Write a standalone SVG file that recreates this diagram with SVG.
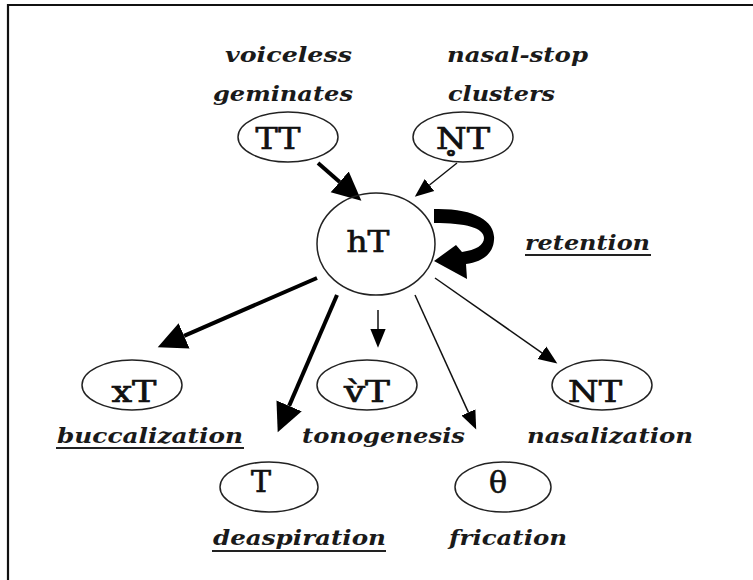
<svg xmlns="http://www.w3.org/2000/svg" width="753" height="580" viewBox="0 0 753 580">
  <style>
    .node { fill: none; stroke: #222; stroke-width: 1.5; }
    .sym { font-family: "DejaVu Serif", "Liberation Serif", serif; font-size: 30px; fill: #111; stroke: #111; stroke-width: 0.7; text-anchor: middle; }
    .lbl { font-family: "DejaVu Serif", "Liberation Serif", serif; font-size: 20px; font-style: italic; font-weight: bold; fill: #1a1a1a; }
    .ul { stroke: #222; stroke-width: 1.8; }
    .thick { stroke: #000; stroke-width: 4; fill: none; }
    .thin { stroke: #111; stroke-width: 1.5; fill: none; }
  </style>
  <defs>
    <marker id="headBig" markerUnits="userSpaceOnUse" markerWidth="30" markerHeight="30" viewBox="0 -12 24 24" refX="0" refY="0" orient="auto">
      <path d="M0,-11 L23,0 L0,11 Z" fill="#000"/>
    </marker>
    <marker id="headSmall" markerUnits="userSpaceOnUse" markerWidth="20" markerHeight="20" viewBox="0 -8 17 16" refX="0" refY="0" orient="auto">
      <path d="M0,-6.5 L16,0 L0,6.5 Z" fill="#000"/>
    </marker>
  </defs>

  <rect width="753" height="580" fill="#fff"/>
  <!-- page frame -->
  <path d="M8,580 V5 H753" fill="none" stroke="#111" stroke-width="2.2"/>

  <g id="connectors">
    <line class="thick" x1="318" y1="163" x2="339.7" y2="181.9" marker-end="url(#headBig)"/>
    <line class="thin" x1="457" y1="163" x2="429.5" y2="185" marker-end="url(#headSmall)"/>
    <line class="thick" x1="317" y1="278" x2="184.1" y2="335.8" marker-end="url(#headBig)"/>
    <line class="thick" x1="337" y1="295" x2="289.1" y2="405.9" marker-end="url(#headBig)"/>
    <line class="thin" x1="378" y1="310" x2="378" y2="329" marker-end="url(#headSmall)"/>
    <line class="thin" x1="415" y1="295" x2="468.4" y2="412.4" marker-end="url(#headSmall)"/>
    <line class="thin" x1="435" y1="278" x2="541.9" y2="352.8" marker-end="url(#headSmall)"/>
    <!-- self loop: retention -->
    <path d="M434,209 C476,208 496,222 494,240 C493,255 481,262 466,264 L467,279 L434,261 L456,245 L462,252 C476,250 484,245 484,238 C484,228 466,223 434,223 Z" fill="#000"/>
  </g>

  <g id="n-TT">
    <ellipse class="node" cx="288" cy="137" rx="50" ry="25"/>
    <text class="sym" x="278" y="149" textLength="45" lengthAdjust="spacingAndGlyphs">TT</text>
  </g>
  <g id="n-NT-cluster">
    <ellipse class="node" cx="463" cy="137" rx="50" ry="25"/>
    <text class="sym" x="463" y="149" textLength="54" lengthAdjust="spacingAndGlyphs">N&#x325;T</text>
  </g>
  <g id="n-hT">
    <ellipse class="node" cx="376" cy="244" rx="59" ry="51"/>
    <text class="sym" x="368" y="252" textLength="43" lengthAdjust="spacingAndGlyphs">hT</text>
  </g>
  <g id="n-xT">
    <ellipse class="node" cx="132" cy="385" rx="50" ry="25"/>
    <text class="sym" x="134" y="402" textLength="45" lengthAdjust="spacingAndGlyphs">xT</text>
  </g>
  <g id="n-vT">
    <ellipse class="node" cx="367" cy="385" rx="50" ry="25"/>
    <text class="sym" x="367" y="402" textLength="46" lengthAdjust="spacingAndGlyphs">v&#x300;T</text>
  </g>
  <g id="n-NT">
    <ellipse class="node" cx="602" cy="385" rx="50" ry="25"/>
    <text class="sym" x="595" y="402" textLength="54" lengthAdjust="spacingAndGlyphs">NT</text>
  </g>
  <g id="n-T">
    <ellipse class="node" cx="269" cy="487" rx="49" ry="25"/>
    <text class="sym" x="261" y="492">T</text>
  </g>
  <g id="n-theta">
    <ellipse class="node" cx="503" cy="487" rx="48" ry="25"/>
    <text class="sym" x="498" y="493">θ</text>
  </g>

  <g id="labels">
    <text class="lbl" x="225" y="62" textLength="127" lengthAdjust="spacingAndGlyphs">voiceless</text>
    <text class="lbl" x="213" y="101" textLength="140" lengthAdjust="spacingAndGlyphs">geminates</text>
    <text class="lbl" x="447" y="62" textLength="141" lengthAdjust="spacingAndGlyphs">nasal-stop</text>
    <text class="lbl" x="448" y="101" textLength="107" lengthAdjust="spacingAndGlyphs">clusters</text>
    <text class="lbl" x="525" y="250" textLength="125" lengthAdjust="spacingAndGlyphs">retention</text>
    <line class="ul" x1="525" y1="255" x2="651" y2="255"/>
    <text class="lbl" x="57" y="443" textLength="186" lengthAdjust="spacingAndGlyphs">buccalization</text>
    <line class="ul" x1="56" y1="448" x2="244" y2="448"/>
    <text class="lbl" x="302" y="443" textLength="163" lengthAdjust="spacingAndGlyphs">tonogenesis</text>
    <text class="lbl" x="527" y="443" textLength="166" lengthAdjust="spacingAndGlyphs">nasalization</text>
    <text class="lbl" x="213" y="545" textLength="173" lengthAdjust="spacingAndGlyphs">deaspiration</text>
    <line class="ul" x1="212" y1="551" x2="386" y2="551"/>
    <text class="lbl" x="449" y="545" textLength="118" lengthAdjust="spacingAndGlyphs">frication</text>
  </g>
</svg>
